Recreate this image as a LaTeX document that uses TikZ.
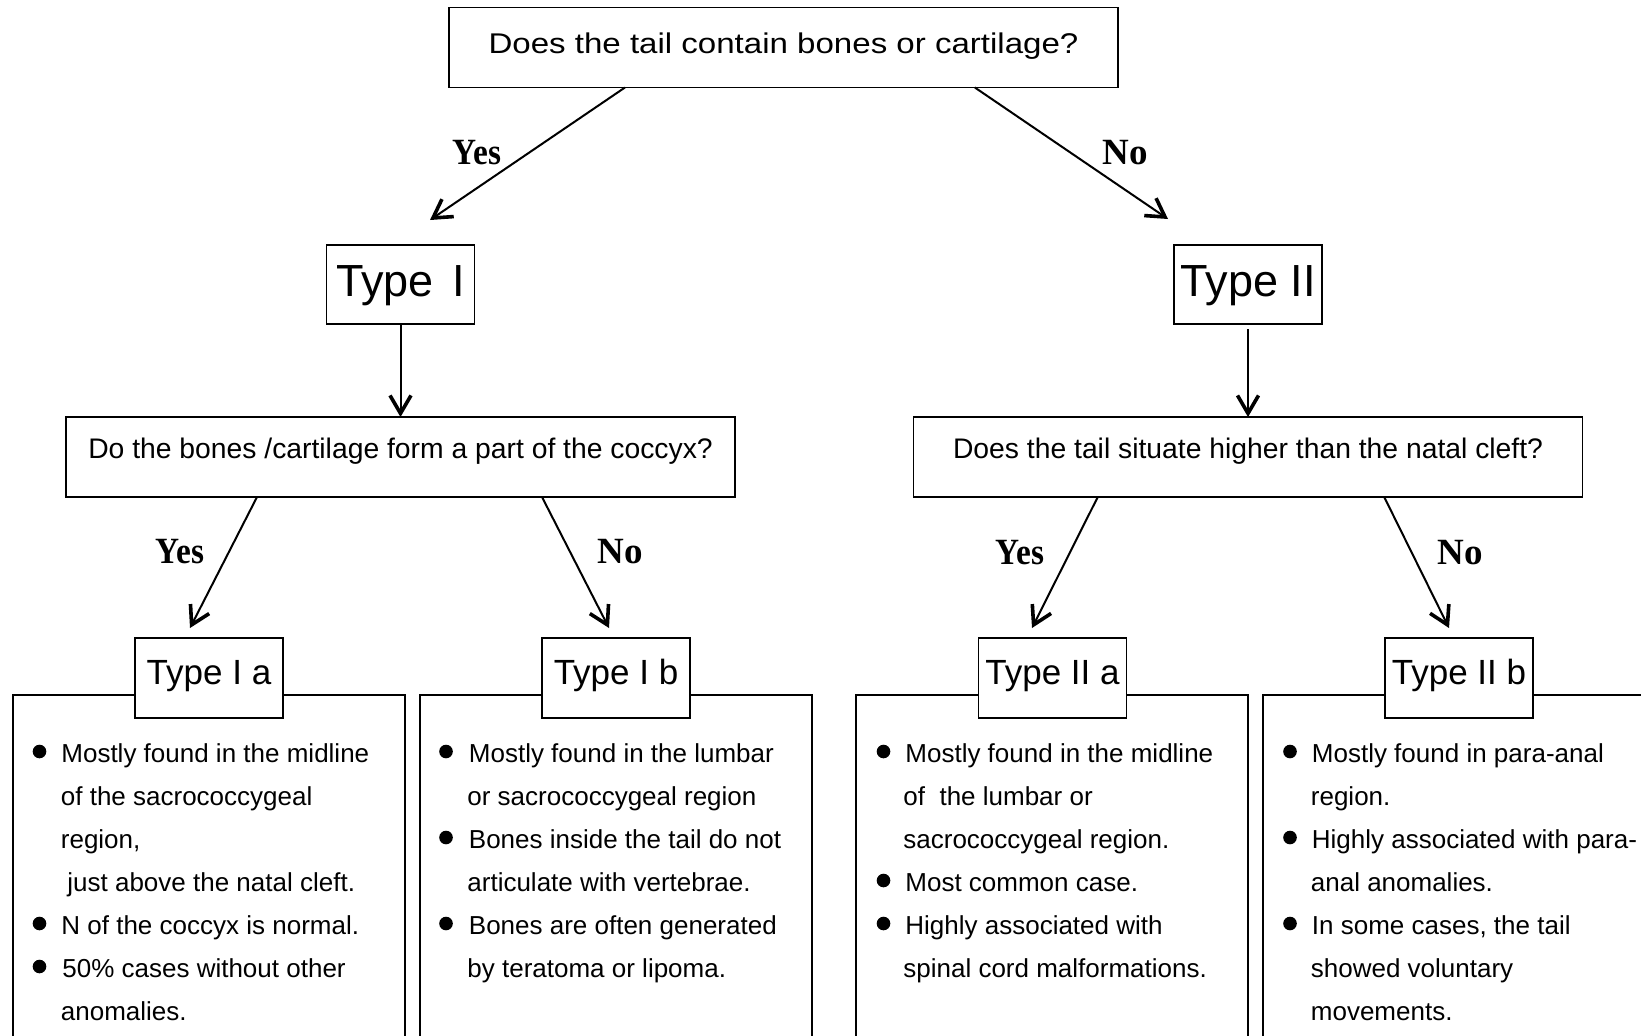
\documentclass[tikz,border=0pt]{standalone}
\usepackage{fontspec}
\usepackage{graphicx}
\setmainfont{Liberation Sans}
\newfontfamily\serifb{Liberation Serif}
\usetikzlibrary{arrows.meta,calc}
\begin{document}
\begin{tikzpicture}[x=0.5pt,y=-0.5pt,
  box/.style={draw, line width=0.75pt, fill=white, inner sep=0pt, outer sep=0pt},
  qbox/.style={box, minimum width=334.5pt, minimum height=40pt, text height=7pt, text depth=5.7pt, font=\fontsize{14.15pt}{17pt}\selectfont},
  bigtype/.style={box, minimum width=74pt, minimum height=39.5pt, text height=16pt, text depth=4.5pt, font=\fontsize{22.5pt}{26pt}\selectfont},
  subtype/.style={box, minimum width=74pt, minimum height=40pt, text height=9pt, text depth=3pt, font=\fontsize{17.5pt}{20pt}\selectfont},
  panel/.style={draw, line width=0.75pt, inner sep=0pt, outer sep=0pt, minimum width=196pt, minimum height=200pt, anchor=north},
  ln/.style={anchor=base west, inner sep=0pt, font=\fontsize{13pt}{15pt}\selectfont},
  lab/.style={anchor=base, inner sep=0pt, font=\serifb\bfseries\fontsize{18.5pt}{21pt}\selectfont},
  arr/.style={line width=1pt, -{Straight Barb[length=9pt,width=10.5pt,line width=1.8pt]}},
  dot/.style={fill=black}
]
\useasboundingbox (0,0) rectangle (1641,1035);
\clip (0,0) rectangle (1641,1035);

% top question
\node[box, minimum width=334.5pt, minimum height=40pt, text height=8.4pt, text depth=2.6pt,
      font=\fontsize{14.25pt}{17pt}\selectfont] (top) at (783.5,47.5)
      {\scalebox{1.16}[1]{Does the tail contain bones or cartilage?}};

% types
\node[bigtype] (t1) at (400.5,284.5) {Type\hspace{3pt} I};
\node[bigtype] (t2) at (1248,284.5) {Type II};

% second questions
\node[qbox] (q1) at (400.5,457) {Do the bones /cartilage form a part of the coccyx?};
\node[qbox] (q2) at (1248,457) {Does the tail situate higher than the natal cleft?};

% panels
\node[panel] (b1) at (209,695) {};
\node[panel] (b2) at (616,695) {};
\node[panel] (b3) at (1052,695) {};
\node[panel] (b4) at (1459,695) {};

% subtype labels
\node[subtype] (s1) at (209,678) {Type I a};
\node[subtype] (s2) at (616,678) {Type I b};
\node[subtype] (s3) at (1052.5,678) {Type II a};
\node[subtype] (s4) at (1459,678) {Type II b};

% arrow coordinates
\coordinate (a1s) at ($(top.south west)!0.263!(top.south east)$);
\coordinate (a2s) at ($(top.south west)!0.786!(top.south east)$);
\coordinate (a1e) at (430,220);
\coordinate (a2e) at (1168,219);
\coordinate (a5s) at ($(q1.south west)!0.2855!(q1.south east)$);
\coordinate (a6s) at ($(q1.south west)!0.7115!(q1.south east)$);
\coordinate (a7s) at ($(q2.south west)!0.2754!(q2.south east)$);
\coordinate (a8s) at ($(q2.south west)!0.7036!(q2.south east)$);
\coordinate (a5e) at (190,628);
\coordinate (a6e) at (609,628);
\coordinate (a7e) at (1032,628);
\coordinate (a8e) at (1449,628);

\draw[arr] (a1s) -- (a1e);
\draw[arr] (a2s) -- (a2e);
\draw[arr] (t1.south) -- (q1.north);
\draw[arr, shorten <=2.5pt] (t2.south) -- (q2.north);
\draw[arr] (a5s) -- (a5e);
\draw[arr] (a6s) -- (a6e);
\draw[arr] (a7s) -- (a7e);
\draw[arr] (a8s) -- (a8e);

% Yes / No labels
\node[lab] (y1) at (477,164) {\scalebox{0.9}[1]{Yes}};
\node[lab] (n1) at (1125,164) {No};
\node[lab] (y2) at (180,563) {\scalebox{0.9}[1]{Yes}};
\node[lab] (n2) at (620,563) {No};
\node[lab] (y3) at (1020,564) {\scalebox{0.9}[1]{Yes}};
\node[lab] (n3) at (1460,564) {No};

% panel 1 text
\fill[dot] (39.5,751.5) circle (3.4pt);
\fill[dot] (39.5,923.5) circle (3.4pt);
\fill[dot] (39.5,966.5) circle (3.4pt);
\node[ln] (p11) at (61,762) {Mostly found in the midline};
\node[ln] (p12) at (60.5,805) {of the sacrococcygeal};
\node[ln] (p13) at (60.5,848) {region,};
\node[ln] (p14) at (67,891) {just above the natal cleft.};
\node[ln] (p15) at (61,934) {N of the coccyx is normal.};
\node[ln] (p16) at (62,977) {50\% cases without other};
\node[ln] (p17) at (60.5,1020) {anomalies.};

% panel 2 text
\fill[dot] (446,751.5) circle (3.4pt);
\fill[dot] (446,837.5) circle (3.4pt);
\fill[dot] (446,923.5) circle (3.4pt);
\node[ln] (p21) at (468.5,762) {Mostly found in the lumbar};
\node[ln] (p22) at (467,805) {or sacrococcygeal region};
\node[ln] (p23) at (468.5,848) {Bones inside the tail do not};
\node[ln] (p24) at (467,891) {articulate with vertebrae.};
\node[ln] (p25) at (468.5,934) {Bones are often generated};
\node[ln] (p26) at (467,977) {by teratoma or lipoma.};

% panel 3 text
\fill[dot] (883.5,751.5) circle (3.4pt);
\fill[dot] (883.5,880.5) circle (3.4pt);
\fill[dot] (883.5,923.5) circle (3.4pt);
\node[ln] (p31) at (905,762) {Mostly found in the midline};
\node[ln] (p32) at (903,805) {of\ \ the lumbar or};
\node[ln] (p33) at (903,848) {sacrococcygeal region.};
\node[ln] (p34) at (905,891) {Most common case.};
\node[ln] (p35) at (905,934) {Highly associated with};
\node[ln] (p36) at (903,977) {spinal cord malformations.};

% panel 4 text
\fill[dot] (1290,751.5) circle (3.4pt);
\fill[dot] (1290,837.5) circle (3.4pt);
\fill[dot] (1290,923.5) circle (3.4pt);
\node[ln] (p41) at (1311.5,762) {Mostly found in para-anal};
\node[ln] (p42) at (1310.5,805) {region.};
\node[ln] (p43) at (1311.5,848) {Highly associated with para-};
\node[ln] (p44) at (1310.5,891) {anal anomalies.};
\node[ln] (p45) at (1311.5,934) {In some cases, the tail};
\node[ln] (p46) at (1310.5,977) {showed voluntary};
\node[ln] (p47) at (1310.5,1020) {movements.};
\end{tikzpicture}
\end{document}
